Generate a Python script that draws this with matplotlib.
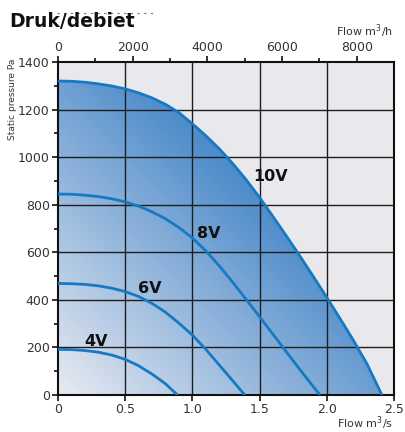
import numpy as np
import matplotlib
matplotlib.use("Agg")
import matplotlib.pyplot as plt
from matplotlib.colors import LinearSegmentedColormap
from matplotlib.path import Path
from matplotlib.patches import PathPatch

# Fan curves: flow (m3/s) vs static pressure (Pa) per control voltage
flow_10v = [0.0, 0.1, 0.2, 0.3, 0.4, 0.5, 0.6, 0.7, 0.8, 0.9, 1.0, 1.1, 1.2,
            1.3, 1.4, 1.5, 1.6, 1.7, 1.8, 1.9, 2.0, 2.1, 2.2, 2.3, 2.41]
pres_10v = [1320, 1319, 1315, 1308, 1299, 1287, 1270, 1249, 1222, 1187, 1140,
            1090, 1035, 973, 905, 830, 750, 668, 584, 498, 410, 320, 228, 130, 0]

flow_8v = [0.0, 0.1, 0.2, 0.3, 0.4, 0.5, 0.6, 0.7, 0.8, 0.9, 1.0, 1.1, 1.2,
           1.3, 1.4, 1.5, 1.6, 1.7, 1.8, 1.9, 1.95]
pres_8v = [845, 844, 840, 834, 825, 812, 794, 770, 741, 704, 660, 606, 543,
           474, 402, 329, 255, 181, 107, 35, 0]

flow_6v = [0.0, 0.1, 0.2, 0.3, 0.4, 0.5, 0.6, 0.7, 0.8, 0.9, 1.0, 1.1, 1.2,
           1.3, 1.39]
pres_6v = [469, 468, 465, 459, 449, 435, 414, 385, 348, 302, 252, 192, 126,
           60, 0]

flow_4v = [0.0, 0.1, 0.2, 0.3, 0.4, 0.5, 0.6, 0.7, 0.8, 0.889]
pres_4v = [192, 191, 187, 180, 168, 150, 123, 88, 47, 0]

curve_labels = ["10V", "8V", "6V", "4V"]
label_pos = [(1.58, 920), (1.12, 679), (0.68, 446), (0.286, 227)]

x_ticks = [0, 0.5, 1.0, 1.5, 2.0, 2.5]
x_ticklabels = ["0", "0.5", "1.0", "1.5", "2.0", "2.5"]
y_ticks = [0, 200, 400, 600, 800, 1000, 1200, 1400]
top_ticks = [0, 2000, 4000, 6000, 8000]

fig = plt.figure(figsize=(4.06, 4.32), dpi=100)
ax = fig.add_axes([0.1429, 0.0856, 0.8275, 0.7709])
ax.set_xlim(0, 2.5)
ax.set_ylim(0, 1400)
ax.set_facecolor("#e9e9ed")

# Diagonal gradient fill below the 10V curve
line_blue = "#1679c3"
cmap = LinearSegmentedColormap.from_list("fan", ["#e8eaf1", "#2f79c3"])
gx = np.linspace(0, 2.5, 300)
gy = np.linspace(0, 1400, 300)
GX, GY = np.meshgrid(gx, gy)
t = 0.5 * GX / 2.5 + 0.5 * GY / 1400
img = ax.imshow(t / 0.72, extent=[0, 2.5, 0, 1400], origin="lower",
                cmap=cmap, vmin=0, vmax=1, aspect="auto", zorder=1,
                interpolation="bilinear")
verts = list(zip(flow_10v, pres_10v)) + [(0, 0)]
clip = PathPatch(Path(verts), transform=ax.transData, facecolor="none",
                 edgecolor="none")
ax.add_patch(clip)
img.set_clip_path(clip)

# Grid
for xv in x_ticks[1:-1]:
    ax.axvline(xv, color="#1e1e1e", lw=1.0, zorder=2)
for yv in y_ticks[1:-1]:
    ax.axhline(yv, color="#1e1e1e", lw=1.0, zorder=2)

for fx, py in [(flow_10v, pres_10v), (flow_8v, pres_8v),
               (flow_6v, pres_6v), (flow_4v, pres_4v)]:
    ax.plot(fx, py, color=line_blue, lw=2.0, zorder=3,
            solid_capstyle="butt", solid_joinstyle="round")

for lab, (lx, ly) in zip(curve_labels, label_pos):
    ax.text(lx, ly, lab, fontsize=11.5, fontweight="bold", color="#111111",
            ha="center", va="center", zorder=4)

for s in ax.spines.values():
    s.set_linewidth(1.5)
    s.set_color("#111111")

ax.set_xticks(x_ticks)
ax.set_xticklabels(x_ticklabels)
ax.set_yticks(y_ticks)
ax.set_yticks(np.arange(100, 1400, 200), minor=True)
ax.tick_params(axis="both", which="both", direction="out", length=4,
               width=1.2, color="#111111", labelsize=9, labelcolor="#333333",
               pad=2)
ax.tick_params(axis="y", which="minor", length=3)

sec = ax.secondary_xaxis("top", functions=(lambda v: v * 3600, lambda v: v / 3600))
sec.set_xticks(top_ticks)
sec.set_xticks([1000, 3000, 5000, 7000], minor=True)
sec.tick_params(axis="x", which="both", direction="out", length=4, width=1.2,
                color="#111111", labelsize=9, labelcolor="#333333", pad=2)
sec.tick_params(axis="x", which="minor", length=3)
sec.spines["top"].set_visible(False)

fig.text(0.968, 0.908, "Flow m$^3$/h", fontsize=8, color="#333333", ha="right", va="bottom")
fig.text(0.968, 0.0, "Flow m$^3$/s", fontsize=8, color="#333333", ha="right", va="bottom")
fig.text(0.03, 0.865, "Static pressure Pa", fontsize=6.5, color="#333333",
         rotation=90, ha="center", va="top")

fig.text(0.024, 0.9375, "Druk/debiet", fontsize=13.5, fontweight="heavy",
         color="#111111", ha="left", va="baseline", family="DejaVu Sans")
fig.lines.append(plt.Line2D([0.14, 0.38], [0.97, 0.97], transform=fig.transFigure,
                            color="#777777", lw=0.8, ls=(0, (2, 4)), zorder=0))

fig.savefig("out.png", dpi=100)
